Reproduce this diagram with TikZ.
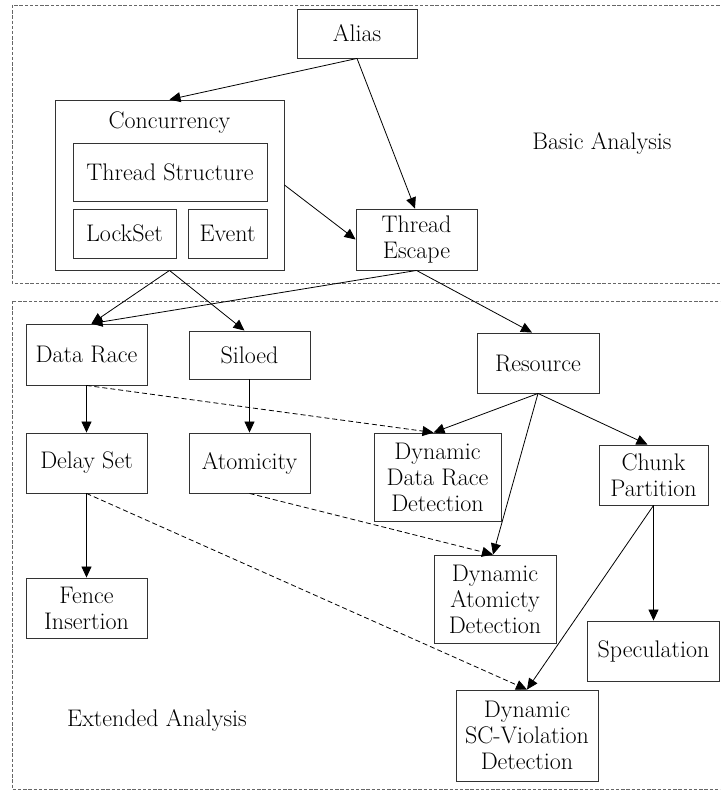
\documentclass[tikz,border=0pt]{standalone}
\usepackage{fontspec}
\usetikzlibrary{arrows.meta}
\tikzset{
  every node/.style={font=\fontsize{24}{26}\selectfont},
  box/.style={draw=black!80, line width=0.9pt, rectangle, align=center, inner sep=0pt},
  region/.style={draw=black!60, line width=0.9pt, dash pattern=on 3.4pt off 1.8pt},
  conn/.style={line width=0.8pt, -{Triangle[length=11pt,width=10pt]}},
  weak/.style={conn, dash pattern=on 5pt off 3pt}
}
\begin{document}
\begin{tikzpicture}[x=1pt,y=-1pt]
\useasboundingbox (0,0) rectangle (720,791);
\clip (0,0) rectangle (720,791);

% the two analysis layers
\draw[region] (12,5) rectangle (730,283);
\draw[region] (12,301) rectangle (730,789);
\node (basic) at (602,143) {Basic Analysis};
\node (ext) at (157,720) {Extended Analysis};

% basic analyses
\node[box, minimum width=120, minimum height=49] (alias) at (357,33.5) {Alias};
\node[box, minimum width=229, minimum height=170] (conc) at (169.5,185) {};
\node (conclabel) at (169.5,123) {Concurrency};
\node[box, minimum width=194, minimum height=58] (ts) at (170,172) {Thread Structure};
\node[box, minimum width=103, minimum height=49] (lock) at (124.5,233.5) {LockSet};
\node[box, minimum width=79, minimum height=49] (event) at (227.5,233.5) {Event};
\node[box, minimum width=121, minimum height=61] (te) at (416.5,239.5) {Thread\\Escape};

% extended analyses
\node[box, minimum width=121, minimum height=61] (dr) at (86.5,354.5) {Data Race};
\node[box, minimum width=121, minimum height=48] (sil) at (249.5,355) {Siloed};
\node[box, minimum width=121, minimum height=60] (delay) at (86.5,463) {Delay Set};
\node[box, minimum width=121, minimum height=60] (atom) at (249.5,463) {Atomicity};
\node[box, minimum width=121, minimum height=60] (fence) at (86.5,608) {Fence\\Insertion};
\node[box, minimum width=122, minimum height=60] (res) at (538,363) {Resource};
\node[box, minimum width=127, minimum height=88] (ddr) at (437.5,477) {Dynamic\\Data Race\\Detection};
\node[box, minimum width=109, minimum height=60] (chunk) at (653.5,475) {Chunk\\Partition};
\node[box, minimum width=132, minimum height=60] (spec) at (653.5,651) {Speculation};
\node[box, minimum width=122, minimum height=88] (dat) at (495,599) {Dynamic\\Atomicty\\Detection};
\node[box, minimum width=142, minimum height=91] (dsc) at (527,735.5) {Dynamic\\SC-Violation\\Detection};

% dependencies
\draw[conn] (alias.south) -- (conc.north);
\draw[conn] (alias.south) -- ([xshift=-1.5]te.north);
\draw[conn] (conc.east) -- (te.west);
\draw[conn] (conc.south) -- ([xshift=5]dr.north);
\draw[conn] (conc.south) -- ([xshift=-5]sil.north);
\draw[conn] (te.south) -- ([xshift=5]dr.north);
\draw[conn] (te.south) -- ([xshift=-6]res.north);
\draw[conn] (dr.south) -- (delay.north);
\draw[weak] (dr.south) -- ([xshift=-4]ddr.north);
\draw[conn] (sil.south) -- (atom.north);
\draw[conn] (delay.south) -- (fence.north);
\draw[weak] (delay.south) -- (dsc.north);
\draw[weak] (atom.south) -- ([xshift=-2]dat.north);
\draw[conn] (res.south) -- ([xshift=-4]ddr.north);
\draw[conn] (res.south) -- ([xshift=-2]dat.north);
\draw[conn] (res.south) -- ([xshift=-6]chunk.north);
\draw[conn] (chunk.south) -- (spec.north);
\draw[conn] (chunk.south) -- (dsc.north);
\end{tikzpicture}
\end{document}
